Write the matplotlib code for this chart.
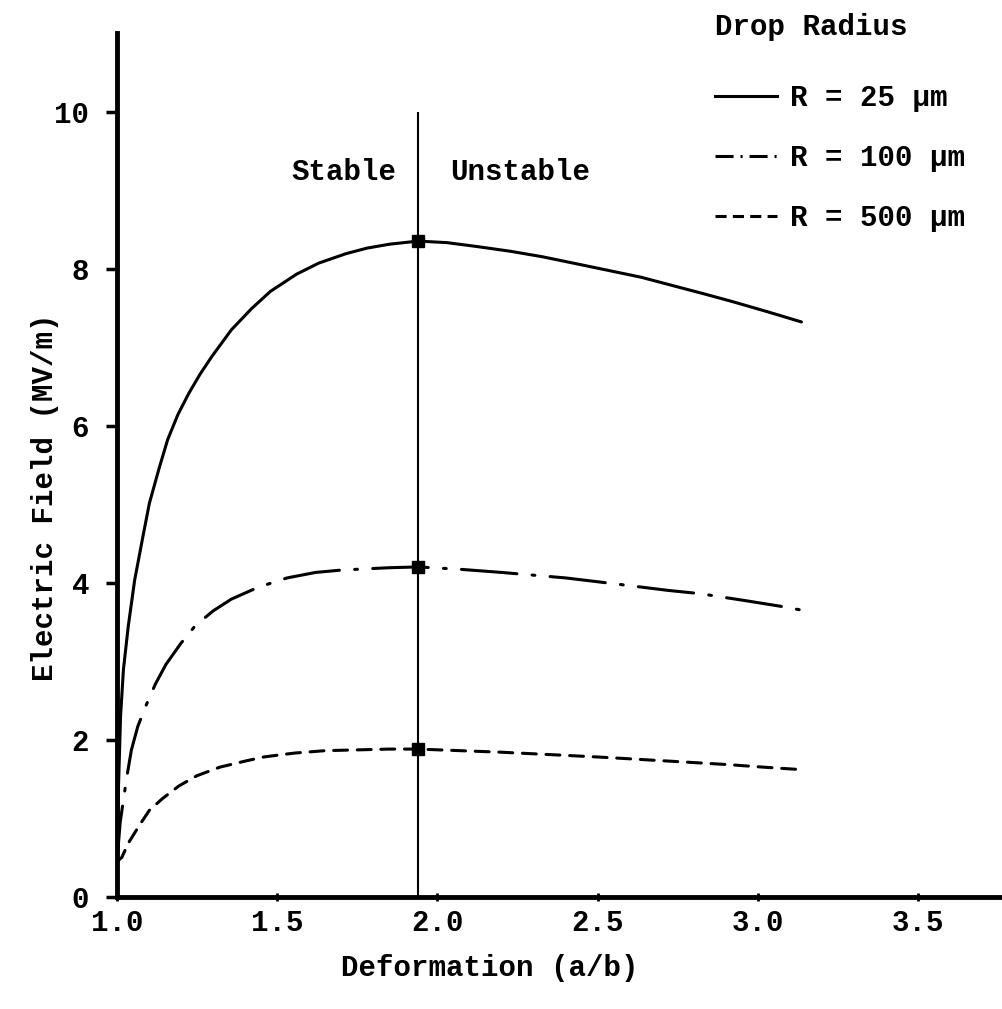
import matplotlib
matplotlib.use("Agg")
import matplotlib.pyplot as plt
from matplotlib.lines import Line2D

plt.rcParams['font.family'] = ['Liberation Mono', 'DejaVu Sans Mono']
plt.rcParams['font.weight'] = 'bold'
plt.rcParams['lines.scale_dashes'] = False

# ---- data ----
r25_x = [1.0, 1.004, 1.011, 1.02, 1.035, 1.055, 1.081, 1.101, 1.131, 1.158, 1.19, 1.224, 1.26,
         1.296, 1.357, 1.42, 1.479, 1.561, 1.63, 1.715, 1.78, 1.85, 1.94, 2.03, 2.124, 2.228,
         2.328, 2.482, 2.635, 2.737, 2.83, 2.92, 3.03, 3.136]
r25_y = [0.45, 1.3, 2.29, 2.89, 3.44, 4.03, 4.59, 5.01, 5.45, 5.82, 6.14, 6.41, 6.66,
         6.88, 7.22, 7.49, 7.71, 7.93, 8.07, 8.19, 8.26, 8.31, 8.35, 8.33, 8.28, 8.22,
         8.15, 8.02, 7.89, 7.78, 7.68, 7.58, 7.45, 7.32]

r100_x = [1.0, 1.01, 1.03, 1.045, 1.065, 1.091, 1.12, 1.153, 1.2, 1.244, 1.3, 1.357, 1.44,
          1.531, 1.62, 1.70, 1.85, 1.94, 2.07, 2.2, 2.4, 2.543, 2.722, 2.819, 2.962, 3.069, 3.136]
r100_y = [0.45, 0.95, 1.51, 1.87, 2.17, 2.44, 2.71, 2.96, 3.23, 3.45, 3.64, 3.79, 3.94,
          4.06, 4.13, 4.16, 4.19, 4.20, 4.17, 4.13, 4.06, 3.99, 3.90, 3.86, 3.77, 3.70, 3.65]

r500_x = [1.0, 1.015, 1.035, 1.07, 1.101, 1.142, 1.193, 1.249, 1.321, 1.403, 1.459, 1.515,
          1.556, 1.65, 1.75, 1.85, 1.94, 2.07, 2.2, 2.35, 2.497, 2.584, 2.666, 2.752, 2.834,
          2.916, 2.982, 3.053, 3.13]
r500_y = [0.45, 0.5, 0.68, 0.91, 1.10, 1.25, 1.41, 1.54, 1.65, 1.73, 1.78, 1.81,
          1.83, 1.86, 1.87, 1.88, 1.88, 1.86, 1.84, 1.81, 1.78, 1.76, 1.74, 1.72, 1.70,
          1.68, 1.66, 1.64, 1.62]

boundary_x = 1.94
boundary_top = 10
peak_y = [8.35, 4.20, 1.88]

series_labels = ["R = 25 \u03bcm", "R = 100 \u03bcm", "R = 500 \u03bcm"]
legend_title = "Drop Radius"
x_ticks = [1.0, 1.5, 2.0, 2.5, 3.0, 3.5]
y_ticks = [0, 2, 4, 6, 8, 10]
xlabel = "Deformation (a/b)"
ylabel = "Electric Field (MV/m)"

# ---- figure ----
W, H = 1003, 1009
fig = plt.figure(figsize=(W / 100, H / 100), dpi=100)
ax_left, ax_right, ax_bottom_px, ax_top_px = 117, 1003, 896.7, 33
ax = fig.add_axes([ax_left / W, 1 - ax_bottom_px / H,
                   (ax_right - ax_left) / W, (ax_bottom_px - ax_top_px) / H])
ax.set_xlim(1.0, 3.765)
ax.set_ylim(0, 11)

lw = 2.2
ax.plot(r25_x, r25_y, color='black', lw=lw, solid_capstyle='round', solid_joinstyle='round')
ax.plot(r100_x, r100_y, color='black', lw=lw, dashes=(40, 11, 2, 11), dash_capstyle='round',
        dash_joinstyle='round')
ax.plot(r500_x, r500_y, color='black', lw=lw, dashes=(10, 7), dash_capstyle='round',
        dash_joinstyle='round')

ax.vlines(boundary_x, 0, boundary_top, color='black', lw=1.5)
ax.plot([boundary_x] * len(peak_y), peak_y, linestyle='none', marker='s',
        markersize=9, color='black')

fs = 21
ax.annotate("Stable", xy=(boundary_x, 9.23), xytext=(-16, 0), textcoords='offset points',
            ha='right', va='center', fontsize=fs)
ax.annotate("Unstable", xy=(boundary_x, 9.23), xytext=(23, 0), textcoords='offset points',
            ha='left', va='center', fontsize=fs)

for s in ['top', 'right']:
    ax.spines[s].set_visible(False)
for s in ['left', 'bottom']:
    ax.spines[s].set_linewidth(3.5)

ax.set_xticks(x_ticks)
ax.set_xticklabels([f"{t:.1f}" for t in x_ticks])
ax.set_yticks(y_ticks)
ax.set_yticklabels([str(t) for t in y_ticks])
ax.tick_params(axis='y', direction='out', length=8, width=2.5, pad=12, labelsize=fs)
ax.tick_params(axis='x', direction='inout', length=6, width=2, pad=6, labelsize=fs)

fig.text(490 / W, 1 - 968 / H, xlabel, ha='center', va='center', fontsize=fs)
fig.text(45 / W, 1 - 497 / H, ylabel, ha='center', va='center', rotation=90, fontsize=fs)

handles = [Line2D([], [], color='black', lw=lw),
           Line2D([], [], color='black', lw=lw, dashes=(13, 5, 1.5, 5)),
           Line2D([], [], color='black', lw=lw, dashes=(8, 4.5))]
leg = ax.legend(handles, series_labels, title=legend_title, loc='upper left',
                bbox_to_anchor=(700 / W, 1 + 2 / H), bbox_transform=fig.transFigure,
                frameon=False, borderpad=0, handlelength=2.15, handletextpad=0.45,
                labelspacing=1.1, fontsize=fs, title_fontsize=fs, alignment='left')
leg._legend_box.sep = 1.1 * fs + 8.3

fig.savefig("out.png", dpi=100)
